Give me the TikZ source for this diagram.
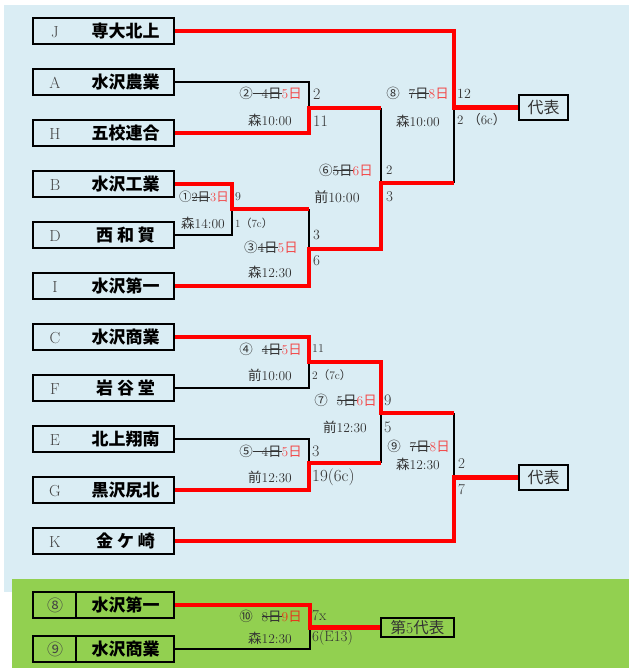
\documentclass[tikz,border=0pt]{standalone}
\usepackage{fontspec}
\newfontfamily\jp{Noto Sans CJK JP}
\definecolor{bgblue}{HTML}{DAEDF4}
\definecolor{bggreen}{HTML}{92D050}
\definecolor{lred}{HTML}{FF0000}
\definecolor{dred}{HTML}{F24A4A}
\definecolor{gred}{HTML}{E8361C}
\definecolor{txt}{HTML}{333333}
\definecolor{lettc}{HTML}{444444}
\newsavebox\stkbox
\newcommand\stk[1]{\sbox\stkbox{#1}\rlap{\usebox\stkbox}\rule[0.3em]{\wd\stkbox}{0.6pt}}
\newcommand\rd[1]{\textcolor{dred}{#1}}
\newcommand\dy[1]{#1{\jp 日}}
\newcommand\fl{{\jp （}}
\newcommand\fr{{\jp ）}}
\newcommand\tm[2]{\makebox[44pt]{\textcolor{lettc}{#1}}\makebox[97pt]{\fontsize{17}{17}\selectfont\jp\bfseries #2}}
\tikzset{
  team/.style={draw, line width=2pt, minimum width=141pt, minimum height=26pt, inner sep=0pt, font=\fontsize{16}{16}\selectfont},
  rep/.style={draw, line width=2pt, inner sep=0pt, text=txt},
  redl/.style={draw=lred, line width=4.5pt},
  blk/.style={draw=black, line width=2pt},
  lbl/.style={inner sep=0pt, text=txt, font=\fontsize{13.5}{14}\selectfont},
  sc/.style={inner sep=0pt, text=txt, anchor=west, font=\fontsize{#1}{#1}\selectfont},
}
\begin{document}
\begin{tikzpicture}[x=1pt,y=-1pt]
\useasboundingbox (0,0) rectangle (629,668);
\fill[bgblue] (4,5) rectangle (629,592);
\fill[bggreen] (12,579) rectangle (629,668);

% teams
\node[team] (J) at (103.5,31) {\tm{J}{専大北上}};
\node[team] (A) at (103.5,82) {\tm{A}{水沢農業}};
\node[team] (H) at (103.5,133) {\tm{H}{五校連合}};
\node[team] (B) at (103.5,184) {\tm{B}{水沢工業}};
\node[team] (D) at (103.5,235) {\tm{D}{西 和 賀}};
\node[team] (I) at (103.5,286) {\tm{I}{水沢第一}};
\node[team] (C) at (103.5,337) {\tm{C}{水沢商業}};
\node[team] (F) at (103.5,388) {\tm{F}{岩 谷 堂}};
\node[team] (E) at (103.5,439) {\tm{E}{北上翔南}};
\node[team] (G) at (103.5,490) {\tm{G}{黒沢尻北}};
\node[team] (K) at (103.5,541) {\tm{K}{金 ケ 崎}};
\node[team] (G8) at (103.5,605) {\tm{\jp ⑧}{水沢第一}};
\node[team] (G9) at (103.5,649) {\tm{\jp ⑨}{水沢商業}};
\draw[line width=2pt] ([xshift=44pt]G8.north west) -- ([xshift=44pt]G8.south west);
\draw[line width=2pt] ([xshift=44pt]G9.north west) -- ([xshift=44pt]G9.south west);

% representative boxes
\node[rep, minimum width=49pt, minimum height=25pt, font=\fontsize{16}{16}\selectfont\jp] (R1) at (543.5,107.5) {代表};
\node[rep, minimum width=49pt, minimum height=25pt, font=\fontsize{16}{16}\selectfont\jp] (R2) at (543.5,477.5) {代表};
\node[rep, minimum width=73pt, minimum height=19pt, font=\fontsize{15.5}{15.5}\selectfont] (R3) at (417.5,627.5) {{\jp 第}5{\jp 代表}};

% junctions
\coordinate (m1) at (232,209);
\coordinate (m2) at (309,108);
\coordinate (m3) at (309,249);
\coordinate (m6) at (381,183);
\coordinate (m8) at (454,107.5);
\coordinate (m4) at (309,362);
\coordinate (m5) at (309,463);
\coordinate (m7) at (381,413);
\coordinate (m9) at (454,477.5);
\coordinate (m10) at (310,627.5);

% black (losing) lines
\draw[blk] (A.east) -| (m2);
\draw[blk] (D.east) -| (m1);
\draw[blk] (m1 -| m3) -- (m3);
\draw[blk] (m2 -| m6) -- (m6);
\draw[blk] (m6 -| m8) -- (m8);
\draw[blk] (F.east) -| (m4);
\draw[blk] (E.east) -| (m5);
\draw[blk] (m5 -| m7) -- (m7);
\draw[blk] (m7 -| m9) -- (m9);
\draw[blk] (G9.east) -| (m10);

% red (winning) lines
\draw[redl] (H.east) -| (m2) -- (m2 -| m6);
\draw[redl] (B.east) -| (m1) -- (m1 -| m3);
\draw[redl] (I.east) -| (m3) -- (m3 -| m6) -- (m6) -- (m6 -| m8);
\draw[redl] (J.east) -| (m8) -- (R1.west);
\draw[redl] (C.east) -| (m4) -- (m4 -| m7) -- (m7) -- (m7 -| m9);
\draw[redl] (G.east) -| (m5) -- (m5 -| m7);
\draw[redl] (K.east) -| (m9) -- (R2.west);
\draw[redl] (G8.east) -| (m10) -- (R3.west);

% match labels - top
\node[lbl, anchor=east] (d2) at (302,93) {{\jp ②}\stk{\ \ \dy4}\rd{\dy5}};
\node[lbl] (t2) at (270,120) {{\jp 森}10:00};
\node[sc=16] (s2a) at (313,94) {2};
\node[sc=16] (s2b) at (313,121) {11};
\node[lbl, anchor=east] (d8) at (449,93) {{\jp ⑧}\ \ \stk{\dy7}\rd{\dy8}};
\node[lbl] (t8) at (418,121) {{\jp 森}10:00};
\node[sc=14] (s8a) at (457,94) {12};
\node[sc=13] (s8b) at (457,120) {2 \fl 6c\fr};
\node[lbl, anchor=east] (d6) at (373,170) {{\jp ⑥}\stk{\dy5}\rd{\dy6}};
\node[lbl, font=\fontsize{14}{14}\selectfont] (t6) at (337,197) {{\jp 前}10:00};
\node[sc=13] (s6a) at (386,170) {2};
\node[sc=15] (s6b) at (386,197) {3};
\node[lbl, anchor=east, font=\fontsize{12.5}{12.5}\selectfont] (d1) at (229,197) {{\jp ①}\stk{\dy2}\rd{\dy3}};
\node[sc=12] (s1a) at (235,197) {9};
\node[lbl] (t1) at (203,223) {{\jp 森}14:00};
\node[sc=11] (s1b) at (235,223) {1\fl 7c\fr};
\node[lbl, anchor=east] (d3) at (298,247) {{\jp ③}\stk{\dy4}\rd{\dy5}};
\node[lbl] (t3) at (270,272) {{\jp 森}12:30};
\node[sc=14] (s3a) at (313,235) {3};
\node[sc=15] (s3b) at (313,261) {6};

% match labels - bottom
\node[lbl, anchor=east] (d4) at (302,349) {{\jp ④}\ \ \stk{\dy4}\rd{\dy5}};
\node[sc=12] (s4a) at (312,349) {11};
\node[lbl] (t4) at (270,375) {{\jp 前}10:00};
\node[sc=11.5] (s4b) at (312,375) {2\fl 7c\fr};
\node[lbl, anchor=east] (d7) at (377,400) {{\jp ⑦}\ \ \stk{\dy5}\rd{\dy6}};
\node[sc=16] (s7a) at (384,400) {9};
\node[lbl] (t7) at (345,427) {{\jp 前}12:30};
\node[sc=16] (s7b) at (384,427) {5};
\node[lbl, anchor=east] (d5) at (302,451) {{\jp ⑤}\stk{\ \ \dy4}\rd{\dy5}};
\node[sc=16] (s5a) at (312,451) {3};
\node[lbl] (t5) at (270,477) {{\jp 前}12:30};
\node[sc=17] (s5b) at (312,477) {19(6c)};
\node[lbl, anchor=east] (d9) at (450,446) {{\jp ⑨}\ \ \stk{\dy7}\rd{\dy8}};
\node[lbl] (t9) at (418,464) {{\jp 森}12:30};
\node[sc=15] (s9a) at (458,464) {2};
\node[sc=15] (s9b) at (458,490) {7};

% green
\node[lbl, anchor=east] (d10) at (302,616) {{\jp ⑩}\ \ \stk{\dy8}\textcolor{gred}{\dy9}};
\node[lbl] (t10) at (270,638) {{\jp 森}12:30};
\node[sc=15] (s10a) at (312,616) {7x};
\node[sc=15] (s10b) at (312,638) {6(E13)};
\end{tikzpicture}
\end{document}
